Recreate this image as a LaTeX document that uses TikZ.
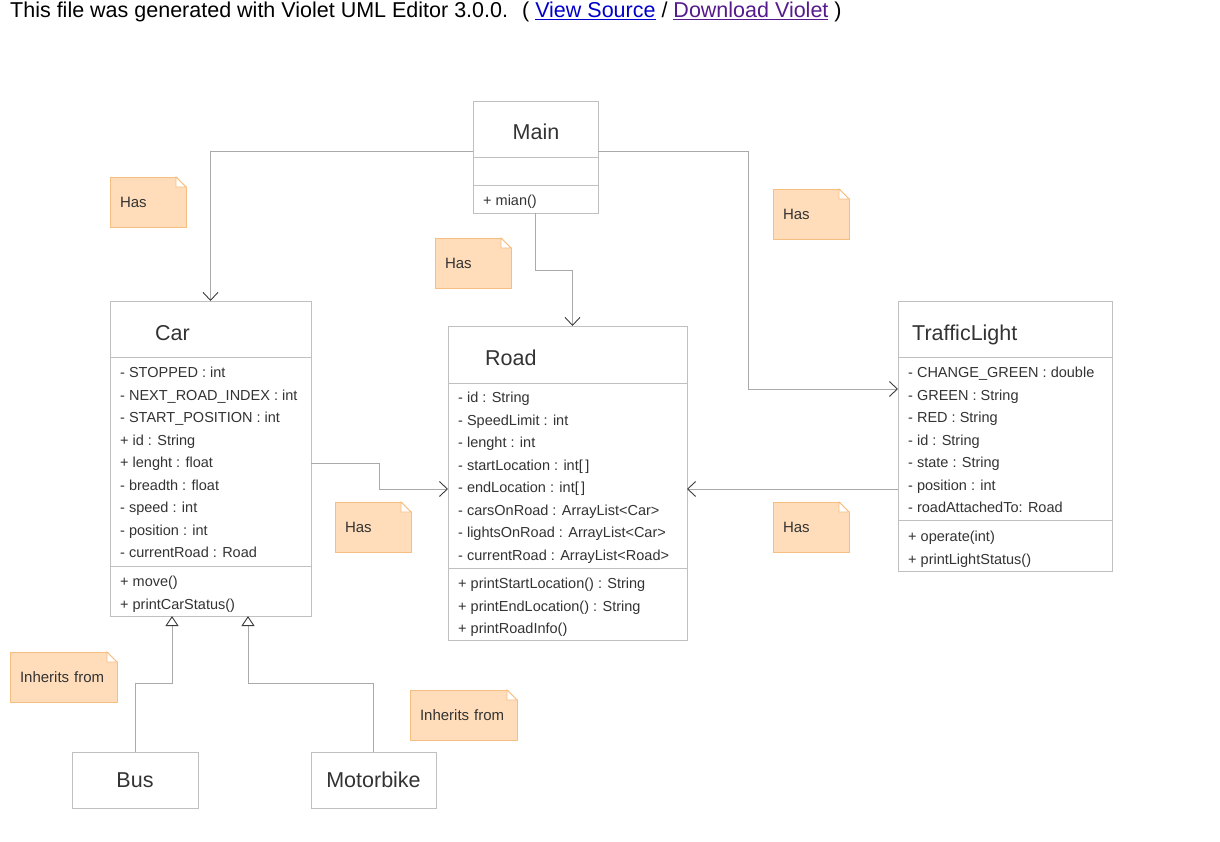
\documentclass[tikz,border=0pt]{standalone}
\usepackage{fontspec}
\setmainfont{Liberation Sans}
\usetikzlibrary{arrows.meta,calc}
\definecolor{boxgray}{RGB}{192,192,192}
\definecolor{linegray}{RGB}{170,170,170}
\definecolor{tipgray}{RGB}{60,60,60}
\definecolor{notefill}{RGB}{255,221,186}
\definecolor{noteline}{RGB}{246,190,128}
\definecolor{textgray}{RGB}{51,51,51}
\definecolor{linkblue}{RGB}{0,0,204}
\definecolor{linkpurple}{RGB}{85,26,139}

\begin{document}
\begin{tikzpicture}[x=1pt,y=-1pt,
	classbox/.style={draw=boxgray,line width=0.8pt,fill=white,inner sep=0pt,outer sep=0pt,anchor=north west},
	classline/.style={draw=boxgray,line width=0.8pt},
	classtitle/.style={anchor=base west,inner sep=0pt,text=textgray,font=\fontsize{21.5}{24}\selectfont},
	members/.style={anchor=north west,inner sep=0pt,align=left,text=textgray,font=\fontsize{14.5}{22.5}\selectfont},
	notebox/.style={fill=notefill,draw=noteline,line width=0.8pt,anchor=north west,minimum height=50,
		inner xsep=10pt,inner ysep=0pt,outer sep=0pt,align=left,text=textgray,font=\fontsize{15}{18}\selectfont},
	hasline/.style={draw=linegray,line width=0.8pt,-{Straight Barb[length=8pt,width=15pt,color=tipgray,line width=0.9pt]}},
	isaline/.style={draw=linegray,line width=0.8pt,-{Triangle[open,length=10pt,width=13pt,color=tipgray,fill=white,line width=0.9pt]}}]
	\useasboundingbox (0,0) rectangle (1220,842);

	\node[anchor=west,inner sep=0pt,font=\fontsize{21.5}{24}\selectfont] (header) at (10,12)
		{This file was generated with Violet UML Editor 3.0.0.\hspace{14pt}( \textcolor{linkblue}{\underline{View Source}} / \textcolor{linkpurple}{\underline{Download Violet}} )};

	\node[classbox,minimum width=125,minimum height=112] (main) at (473,101) {};
	\draw[classline] (473,157) -- (598,157);
	\draw[classline] (473,185) -- (598,185);
	\node[classtitle,anchor=base] (maintitle) at (536,140) {Main};
	\node[members] (mainops) at (483,195) {+ mian()};

	\node[classbox,minimum width=201,minimum height=315] (car) at (110,301) {};
	\draw[classline] (110,357) -- (311,357);
	\draw[classline] (110,566) -- (311,566);
	\node[classtitle] (cartitle) at (155,340) {Car};
	\node[members] (carattrs) at (120,367) {- STOPPED : int\\- NEXT\_ROAD\_INDEX : int\\- START\_POSITION : int\\+ id : String\\+ lenght : float\\- breadth : float\\- speed : int\\- position : int\\- currentRoad : Road};
	\node[members] (carops) at (120,576) {+ move()\\+ printCarStatus()};

	\node[classbox,minimum width=239,minimum height=314] (road) at (448,326) {};
	\draw[classline] (448,383) -- (687,383);
	\draw[classline] (448,568) -- (687,568);
	\node[classtitle] (roadtitle) at (485,365) {Road};
	\node[members] (roadattrs) at (458,392) {- id : String\\- SpeedLimit : int\\- lenght : int\\- startLocation : int[\,]\\- endLocation : int[\,]\\- carsOnRoad : ArrayList<Car>\\- lightsOnRoad : ArrayList<Car>\\- currentRoad : ArrayList<Road>};
	\node[members] (roadops) at (458,578) {+ printStartLocation() : String\\+ printEndLocation() : String\\+ printRoadInfo()};

	\node[classbox,minimum width=214,minimum height=270] (light) at (898,301) {};
	\draw[classline] (898,357) -- (1112,357);
	\draw[classline] (898,520) -- (1112,520);
	\node[classtitle] (lighttitle) at (912,340) {TrafficLight};
	\node[members] (lightattrs) at (908,367) {- CHANGE\_GREEN : double\\- GREEN : String\\- RED : String\\- id : String\\- state : String\\- position : int\\- roadAttachedTo: Road};
	\node[members] (lightops) at (908,531) {+ operate(int)\\+ printLightStatus()};

	\node[classbox,minimum width=126,minimum height=56,text=textgray,font=\fontsize{21.5}{24}\selectfont] (bus) at (72,752) {Bus};
	\node[classbox,minimum width=125,minimum height=56,text=textgray,font=\fontsize{21.5}{24}\selectfont] (motorbike) at (311,752) {Motorbike};

	\node[notebox,text width=56] (hascar) at (110,177) {Has};
	\node[notebox,text width=56] (hasroad) at (435,238) {Has};
	\node[notebox,text width=56] (haslight) at (773,189) {Has};
	\node[notebox,text width=56] (hascarroad) at (335,502) {Has};
	\node[notebox,text width=56] (haslightroad) at (773,502) {Has};
	\node[notebox,text width=87] (inhbus) at (10,652) {Inherits from};
	\node[notebox,text width=87] (inhmotorbike) at (410,690) {Inherits from};
	\foreach \n in {hascar,hasroad,haslight,hascarroad,haslightroad,inhbus,inhmotorbike}{
		\fill[white] ($(\n.north east)+(-10,-1)$) -- ($(\n.north east)+(1,-1)$) -- ($(\n.north east)+(1,10)$) -- cycle;
		\draw[noteline,line width=0.8pt,fill=white] ($(\n.north east)+(-10,0)$) -- ($(\n.north east)+(0,10)$) -- ($(\n.north east)+(-10,10)$) -- cycle;
	}

	\draw[hasline] ($(main.north west)+(0,50)$) -| (car.north);
	\draw[hasline] (main.south) -- ++(0,57) -| ($(road.north)+(5,0)$);
	\draw[hasline] ($(main.north east)+(0,50)$) -- ++(150,0) |- ($(light.north west)+(0,88)$);
	\draw[hasline] ($(car.north east)+(0,162)$) -- ++(68,0) |- ($(road.north west)+(0,163)$);
	\draw[hasline] ($(light.north west)+(0,188)$) -- ($(road.north east)+(0,163)$);
	\draw[isaline] (bus.north) -- ++(0,-69) -| ($(car.south west)+(62,0)$);
	\draw[isaline] (motorbike.north) -- ++(0,-69) -| ($(car.south west)+(138,0)$);
\end{tikzpicture}
\end{document}
